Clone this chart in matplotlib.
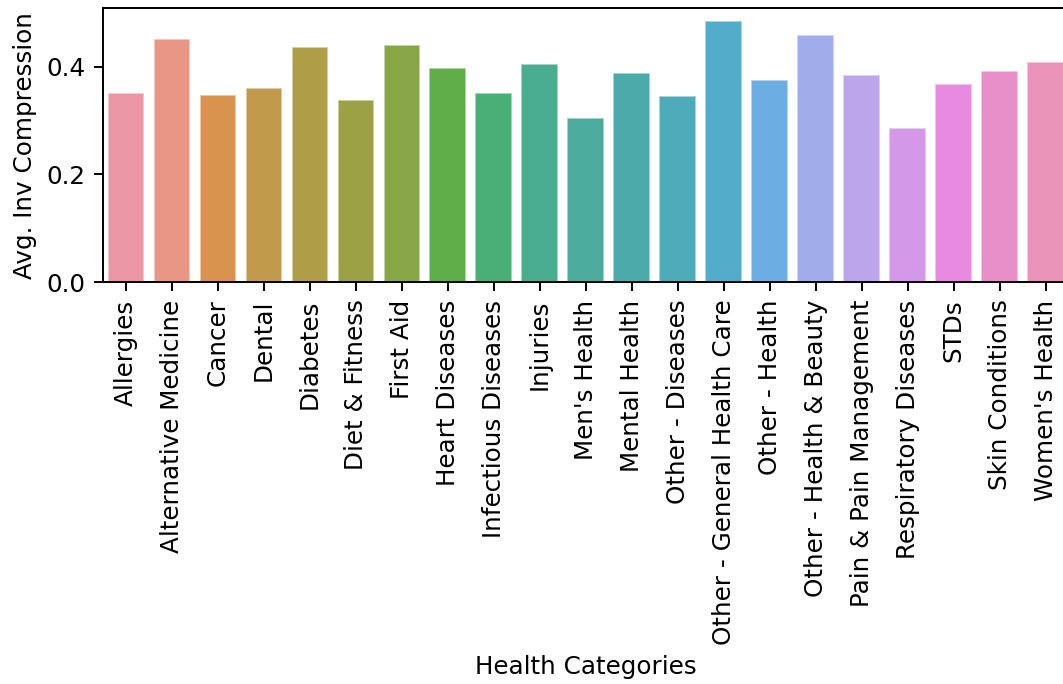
import matplotlib
matplotlib.use("Agg")
import matplotlib.pyplot as plt
import seaborn as sns
import pandas as pd

categories = ["Allergies", "Alternative Medicine", "Cancer", "Dental", "Diabetes",
              "Diet & Fitness", "First Aid", "Heart Diseases", "Infectious Diseases",
              "Injuries", "Men's Health", "Mental Health", "Other - Diseases",
              "Other - General Health Care", "Other - Health", "Other - Health & Beauty",
              "Pain & Pain Management", "Respiratory Diseases", "STDs", "Skin Conditions",
              "Women's Health"]
values = [0.352, 0.451, 0.348, 0.361, 0.437, 0.339, 0.440, 0.397, 0.351, 0.404,
          0.305, 0.388, 0.345, 0.484, 0.375, 0.458, 0.384, 0.286, 0.368, 0.391, 0.408]

df = pd.DataFrame({"cat": categories, "val": values})

W, H, DPI = 1063, 684, 177
fig = plt.figure(figsize=(W / DPI, H / DPI), dpi=DPI)
left, right, top, bottom = 103, 1068.7, 8.3, 282.3
ax = fig.add_axes([left / W, 1 - bottom / H, (right - left) / W, (bottom - top) / H])
pal = sns.color_palette(sns.husl_palette(len(categories), l=0.7), desat=0.75)
sns.barplot(data=df, x="cat", y="val", hue="cat", palette=pal, legend=False, ax=ax,
            saturation=1, edgecolor=(1, 1, 1, 0.5), linewidth=0.8)
ax.set_xlabel("Health Categories")
ax.set_ylabel("Avg. Inv Compression")
ax.tick_params(axis="x", rotation=90)
ax.set_yticks([0.0, 0.2, 0.4])
fig.savefig("out.png", dpi=DPI)
